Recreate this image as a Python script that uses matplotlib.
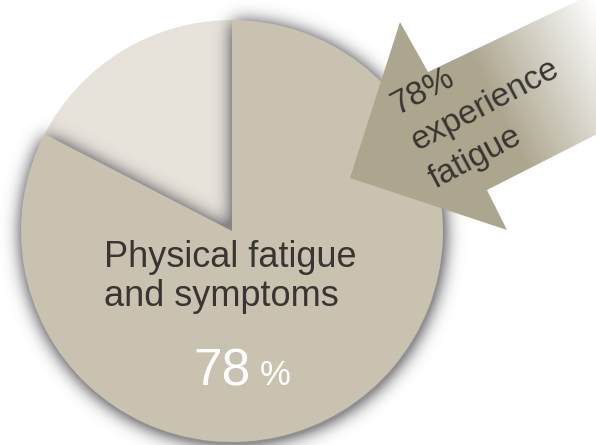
import numpy as np
import matplotlib.pyplot as plt
from matplotlib.patches import Polygon

# canvas size in pixels
W, H = 596, 445

# pie data (slice sizes as drawn in the picture, light slice first)
slice_names = ['Other', 'Physical fatigue and symptoms']
slice_sizes = [17.4, 82.6]
slice_colors = ['#e7e3db', '#c9c2b1']

# labels
main_label = ['Physical fatigue', 'and symptoms']
main_value = '78'
arrow_lines = ['78%', 'experience', 'fatigue']

plt.rcParams['font.family'] = ['Liberation Sans', 'DejaVu Sans']

fig = plt.figure(figsize=(W / 100, H / 100), dpi=100)
ax = fig.add_axes([0, 0, 1, 1])

def py(y):
    # pixel row (from top) -> data y
    return H - y

cx, cy, R = 232, py(231), 211

rows, cols = np.mgrid[0:H, 0:W]
X = cols + 0.5
Y = H - (rows + 0.5)

# pie
wedges, _ = ax.pie(slice_sizes, colors=slice_colors, startangle=90, counterclock=True,
                   center=(cx, cy), radius=R, frame=True,
                   wedgeprops=dict(linewidth=0))
wedges[0].set_zorder(2)
wedges[1].set_zorder(4)

# soft shadow cast by the big slice (falls on the white page and on the light slice)
end_ang = np.deg2rad(90 + 360 * slice_sizes[0] / sum(slice_sizes))
dx, dy = X - (cx + 1), Y - (cy - 2)
ang = np.arctan2(dy, dx)
ang = np.where(ang < -np.pi / 2, ang + 2 * np.pi, ang)
in_light = (ang >= np.pi / 2) & (ang <= end_ang)
mask = ((np.hypot(dx, dy) < R) & ~in_light).astype(float)

sigma = 9.0
k = np.arange(-30, 31)
kern = np.exp(-k ** 2 / (2 * sigma ** 2))
kern /= kern.sum()
blur = np.apply_along_axis(lambda v: np.convolve(v, kern, mode='same'), 1, mask)
blur = np.apply_along_axis(lambda v: np.convolve(v, kern, mode='same'), 0, blur)

shadow = np.zeros((H, W, 4))
shadow[..., 0] = 0.30
shadow[..., 1] = 0.30
shadow[..., 2] = 0.32
shadow[..., 3] = np.clip(1.25 * blur, 0, 0.62)
ax.imshow(shadow, extent=(0, W, 0, H), origin='upper', zorder=3, interpolation='bilinear')

# arrow with gradient fading to white
arrow_px = [(350, 178), (400, 22), (428, 72), (615, -17), (615, 125), (487, 190), (507, 230)]
arrow_poly = Polygon([(x, py(y)) for x, y in arrow_px], closed=True,
                     facecolor='none', edgecolor='none', zorder=5)
ax.add_patch(arrow_poly)
base = np.array([0xad, 0xa6, 0x8f]) / 255
dirx, diry = np.cos(np.deg2rad(26)), -np.sin(np.deg2rad(26))
proj = X * dirx + (rows + 0.5) * diry
t = np.clip((proj - 400) / 135, 0, 1)
grad = np.ones((H, W, 4))
for c in range(3):
    grad[..., c] = base[c] * (1 - t) + 1.0 * t
im = ax.imshow(grad, extent=(0, W, 0, H), origin='upper', zorder=5, interpolation='bilinear')
im.set_clip_path(arrow_poly)

ax.set_xlim(0, W)
ax.set_ylim(0, H)
ax.set_aspect('auto')
ax.axis('off')

# labels on the pie
txt_col = '#383532'
ax.text(104, py(267), main_label[0], fontsize=26, color=txt_col, ha='left', va='baseline', zorder=6)
ax.text(104, py(306), main_label[1], fontsize=26, color=txt_col, ha='left', va='baseline', zorder=6)
ax.text(193, py(385), main_value, fontsize=37, color='white', ha='left', va='baseline', zorder=6)
ax.text(260, py(385), '%', fontsize=25, color='white', ha='left', va='baseline', zorder=6)

# labels on the arrow
arrow_pos = [(397, 115), (417, 151), (435, 189)]
for (x, y), s in zip(arrow_pos, arrow_lines):
    ax.text(x, py(y), s, fontsize=24, color=txt_col, rotation=28, rotation_mode='anchor',
            ha='left', va='baseline', zorder=6)

fig.savefig('out.png', dpi=100)
